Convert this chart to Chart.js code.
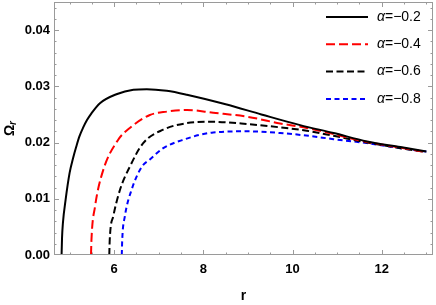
<!DOCTYPE html>
<html>
<head>
<meta charset="utf-8">
<script src="https://cdn.jsdelivr.net/npm/chart.js@4.4.1/dist/chart.umd.min.js"></script>
<style>
    html, body { margin:0; padding:0; background:#ffffff; }
    #wrap { width:436px; height:305px; }
</style>
</head>
<body>
<div id="wrap"><canvas id="grafico"></canvas></div>
<script>
// ==========================================================
// Dados
// ==========================================================

const rA02 = [4.82, 4.83, 4.85, 4.91, 5.0, 5.08, 5.15, 5.22, 5.30, 5.39, 5.49, 5.68, 6.05, 6.43, 6.73, 7.18, 7.63, 8.5, 9.3, 10.17, 10.92, 11.67, 12.42, 13.0];
const omegaA02 = [0, 0.003, 0.0057, 0.0098, 0.0146, 0.0173, 0.0193, 0.0211, 0.0226, 0.0240, 0.0252, 0.0270, 0.0286, 0.0294, 0.0295, 0.0292, 0.0285, 0.0268, 0.0250, 0.0231, 0.0217, 0.0202, 0.0192, 0.0184];

const rA04 = [5.48, 5.49, 5.57, 5.75, 6.09, 6.35, 6.80, 7.18, 7.63, 8.22, 8.98, 9.72, 10.32, 10.92, 11.67, 12.42, 13.0];
const omegaA04 = [0, 0.0027, 0.0086, 0.0150, 0.0205, 0.0226, 0.0249, 0.0255, 0.0258, 0.0253, 0.0246, 0.0234, 0.0226, 0.0215, 0.0201, 0.0191, 0.0183];

const rA06 = [5.89, 5.90, 5.98, 6.13, 6.35, 6.65, 7.10, 7.59, 8.15, 8.98, 9.72, 10.32, 10.92, 11.67, 12.42, 13.0];
const omegaA06 = [0, 0.0027, 0.0069, 0.0116, 0.0157, 0.0199, 0.0223, 0.0234, 0.0237, 0.0233, 0.0227, 0.0221, 0.0212, 0.0200, 0.0190, 0.0183];

const rA08 = [6.17, 6.18, 6.24, 6.39, 6.62, 6.80, 7.10, 7.55, 8.22, 8.98, 9.72, 10.36, 10.92, 11.67, 12.42, 13.0];
const omegaA08 = [0, 0.0027, 0.0069, 0.0116, 0.0157, 0.0170, 0.0190, 0.0205, 0.0218, 0.0220, 0.0217, 0.0212, 0.0206, 0.0199, 0.0190, 0.0184];

const alphas = ["-0.2", "-0.4", "-0.6", "-0.8"];

const xTicks = [6, 8, 10, 12];
const yTicks = [0, 0.01, 0.02, 0.03, 0.04];

// ==========================================================
// Estilos
// ==========================================================

const CORES = ["#000000", "#ff0000", "#000000", "#0000ff"];
const TRACOS = [[], [9, 4], [7, 3.5], [5, 3.5]];
const MOLDURA = "#9a9a9a";
const FONTE = "'Liberation Sans', Arial, sans-serif";

function pontos(rs, vs){
    return rs.map((r, i)=>({x:r, y:vs[i]}));
}

const series = [
    pontos(rA02, omegaA02),
    pontos(rA04, omegaA04),
    pontos(rA06, omegaA06),
    pontos(rA08, omegaA08)
];

// ==========================================================
// PLUGIN: moldura, ticks internos, legenda e títulos
// ==========================================================

const molduraPlugin = {

    id:"moldura",

    afterDraw(chart){

        const {ctx, chartArea:area, scales} = chart;
        const sx = scales.x, sy = scales.y;

        ctx.save();

        // moldura
        ctx.strokeStyle = MOLDURA;
        ctx.lineWidth = 1;
        ctx.strokeRect(area.left + 0.5, area.top + 0.5, area.right - area.left - 1, area.bottom - area.top - 1);

        // ticks em x (baixo e cima)
        for(let v = 5; v <= 13.001; v += 0.5){
            const px = Math.round(sx.getPixelForValue(v)) + 0.5;
            if(px < area.left || px > area.right) continue;
            const len = (Math.abs(v % 2) < 1e-6) ? 5 : 2.5;
            ctx.beginPath();
            ctx.moveTo(px, area.bottom); ctx.lineTo(px, area.bottom - len);
            ctx.moveTo(px, area.top); ctx.lineTo(px, area.top + len);
            ctx.stroke();
        }

        // ticks em y (esquerda e direita)
        for(let k = 0; k <= 22; k++){
            const v = k * 0.002;
            const py = Math.round(sy.getPixelForValue(v)) + 0.5;
            if(py < area.top || py > area.bottom) continue;
            const len = (k % 5 === 0) ? 5 : 2.5;
            ctx.beginPath();
            ctx.moveTo(area.left, py); ctx.lineTo(area.left + len, py);
            ctx.moveTo(area.right, py); ctx.lineTo(area.right - len, py);
            ctx.stroke();
        }

        // legenda
        chart.data.datasets.forEach((ds, i)=>{
            const y = 17 + i * 27.3;
            ctx.strokeStyle = ds.borderColor;
            ctx.lineWidth = 2;
            ctx.setLineDash(ds.borderDash || []);
            ctx.beginPath();
            ctx.moveTo(326, y); ctx.lineTo(368, y);
            ctx.stroke();
            ctx.setLineDash([]);

            ctx.fillStyle = "#000";
            ctx.textBaseline = "middle";
            ctx.textAlign = "left";
            ctx.font = "italic 14px " + FONTE;
            ctx.fillText("\u03b1", 377, y);
            const w = ctx.measureText("\u03b1").width;
            ctx.font = "14px " + FONTE;
            ctx.fillText("=" + alphas[i].replace("-", "\u2212"), 377 + w, y);
        });

        // título eixo x
        ctx.fillStyle = "#000";
        ctx.font = "bold 14px " + FONTE;
        ctx.textAlign = "center";
        ctx.textBaseline = "middle";
        ctx.fillText("r", (area.left + area.right) / 2, 296);

        // título eixo y (Ω com subscrito r)
        ctx.translate(10, (area.top + area.bottom) / 2);
        ctx.rotate(-Math.PI / 2);
        ctx.textAlign = "left";
        ctx.font = "bold 14px " + FONTE;
        const wO = ctx.measureText("\u03a9").width;
        const wr = 4;
        ctx.fillText("\u03a9", -(wO + wr) / 2, 0);
        ctx.font = "italic bold 10px " + FONTE;
        ctx.fillText("r", -(wO + wr) / 2 + wO, 3);

        ctx.restore();

    }

};

// ==========================================================
// Gráfico
// ==========================================================

new Chart(document.getElementById("grafico"), {

    type:"line",

    data:{
        datasets: series.map((dados, i)=>({
            label:"\u03b1=" + alphas[i],
            data:dados,
            borderColor:CORES[i],
            borderDash:TRACOS[i],
            borderWidth:2,
            pointRadius:0,
            fill:false,
            cubicInterpolationMode:"monotone"
        }))
    },

    options:{

        responsive:true,
        maintainAspectRatio:false,
        animation:false,

        layout:{
            padding:{ top:2, right:3, left:0, bottom:0 }
        },

        plugins:{
            legend:{ display:false },
            tooltip:{ enabled:false }
        },

        scales:{

            x:{
                type:"linear",
                min:4.65,
                max:13.15,
                grid:{ display:false, drawTicks:false },
                border:{ display:false },
                afterBuildTicks:(s)=>{ s.ticks = xTicks.map(v=>({value:v})); },
                afterFit:(s)=>{ s.height = 50; s.paddingLeft = 0; s.paddingRight = 0; },
                ticks:{
                    padding:7,
                    color:"#000",
                    font:{ family:FONTE, size:13, weight:"bold" },
                    maxRotation:0,
                    callback:(v)=>String(v)
                }
            },

            y:{
                min:0,
                max:0.045,
                grid:{ display:false, drawTicks:false },
                border:{ display:false },
                afterBuildTicks:(s)=>{ s.ticks = yTicks.map(v=>({value:v})); },
                afterFit:(s)=>{ s.width = 54; s.paddingTop = 0; s.paddingBottom = 0; },
                ticks:{
                    padding:4,
                    color:"#000",
                    font:{ family:FONTE, size:13, weight:"bold" },
                    callback:(v)=>Number(v).toFixed(2)
                }
            }

        }

    },

    plugins:[molduraPlugin]

});
</script>
</body>
</html>
